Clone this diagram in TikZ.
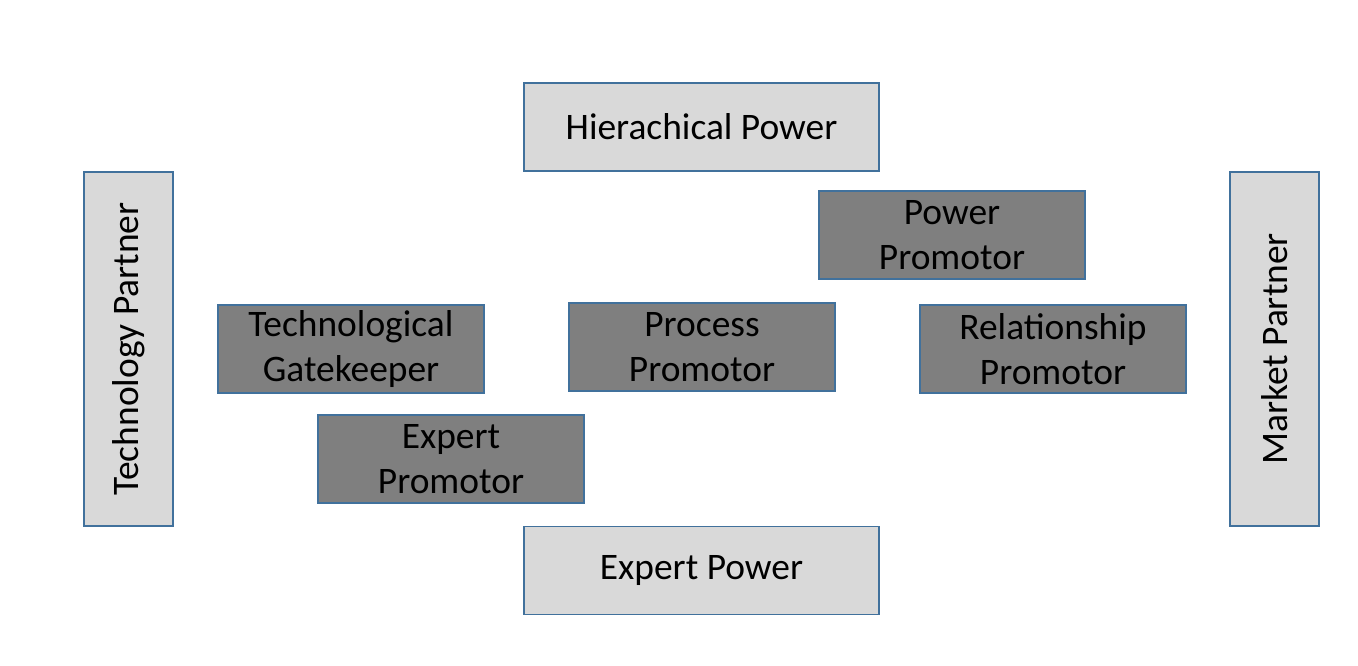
\documentclass[tikz,border=0pt]{standalone}
\usepackage{fontspec}
\setmainfont{Carlito}
\usetikzlibrary{positioning}

\definecolor{boxline}{HTML}{41719C}
\definecolor{lightbox}{HTML}{D9D9D9}
\definecolor{darkbox}{HTML}{7F7F7F}

\tikzset{
  powerbox/.style={draw=boxline, line width=0.8pt, fill=lightbox, minimum width=7.1cm, minimum height=1.76cm, font=\fontsize{21.3}{25.5}\selectfont},
  partnerbox/.style={draw=boxline, line width=0.8pt, fill=lightbox, rotate=90, minimum width=7.08cm, minimum height=1.78cm, font=\fontsize{21.3}{25.5}\selectfont},
  promobox/.style={draw=boxline, line width=0.8pt, fill=darkbox, minimum width=5.32cm, minimum height=1.76cm, align=center, inner sep=0pt, font=\fontsize{21.3}{25.5}\selectfont}
}

\begin{document}
\begin{tikzpicture}

\useasboundingbox (0,0) rectangle (27.16,13.32);

% power sources
\node[powerbox] (hierpower) at (14.03,10.78) {Hierachical Power};
\node[powerbox] (expertpower) at (14.03,1.91) {Expert Power};

% partners
\node[partnerbox] (techpartner) at (2.57,6.34) {Technology Partner};
\node[partnerbox] (marketpartner) at (25.49,6.34) {Market Partner};

% promotors
\node[promobox] (powerprom) at (19.04,8.62) {Power\\Promotor};
\node[promobox] (gatekeeper) at (7.02,6.34) {Technological\\Gatekeeper};
\node[promobox] (processprom) at (14.04,6.38) {Process\\Promotor};
\node[promobox] (relprom) at (21.06,6.34) {Relationship\\Promotor};
\node[promobox] (expertprom) at (9.02,4.14) {Expert\\Promotor};

\end{tikzpicture}
\end{document}
